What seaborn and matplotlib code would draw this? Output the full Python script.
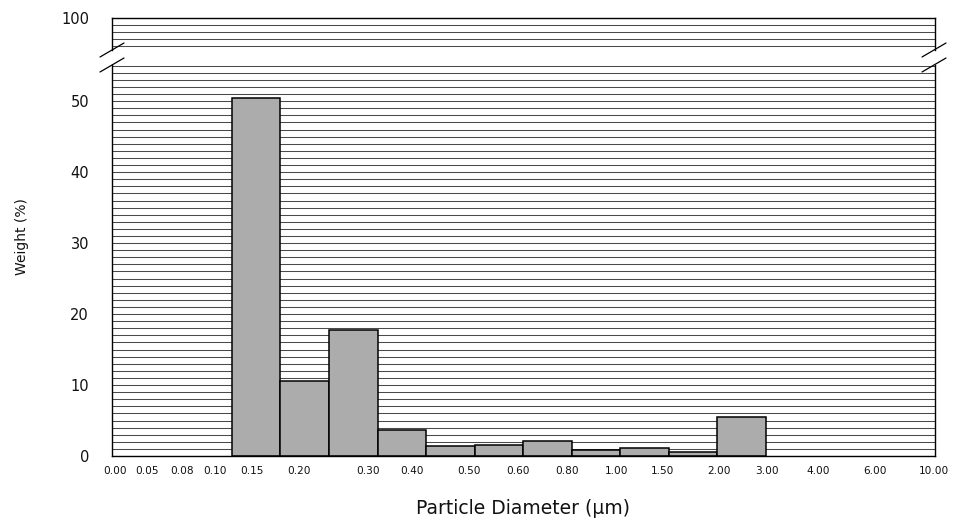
import matplotlib
matplotlib.use("Agg")
import matplotlib.pyplot as plt
from matplotlib.lines import Line2D
from matplotlib.ticker import MultipleLocator
import seaborn as sns
import pandas as pd

# size bins (lower edge - upper edge) and weight % per bin
bins = ["0.10-0.15", "0.15-0.20", "0.20-0.30", "0.30-0.40", "0.40-0.50", "0.50-0.60",
        "0.60-0.80", "0.80-1.00", "1.00-1.50", "1.50-2.00", "2.00-3.00"]
weight = [50.5, 10.6, 17.8, 3.6, 1.4, 1.6, 2.1, 0.8, 1.1, 0.5, 5.5]

# x tick labels (bin edges) as printed on the chart
edge_labels = ["0.00", "0.05", "0.08", "0.10", "0.15", "0.20", "0.30", "0.40", "0.50",
               "0.60", "0.80", "1.00", "1.50", "2.00", "3.00", "4.00", "6.00", "10.00"]
edge_pos = [-2.91, -2.25, -1.53, -0.85, -0.09, 0.88, 2.30, 3.21, 4.38,
            5.39, 6.40, 7.43, 8.36, 9.53, 10.52, 11.57, 12.74, 13.96]

df = pd.DataFrame({"bin": bins, "weight": weight})

sns.set_style("white")
plt.rcParams["font.family"] = ["DejaVu Sans"]

fig = plt.figure(figsize=(9.59, 5.22), dpi=100)
W, H = 959, 522
left, right = 112 / W, 935 / W
ax = fig.add_axes([left, 1 - 456 / H, right - left, (456 - 65) / H])
ax_top = fig.add_axes([left, 1 - 50 / H, right - left, 32 / H])

grid_kw = dict(color="#4a4a4a", linewidth=0.75)
for a in (ax, ax_top):
    a.yaxis.set_minor_locator(MultipleLocator(1))
    a.grid(axis="y", which="both", **grid_kw)
    a.set_axisbelow(True)
    a.set_xlim(-2.97, 13.98)
    for s in a.spines.values():
        s.set_color("black")
        s.set_linewidth(1.0)
    a.tick_params(axis="y", which="major", direction="out", length=6.5, width=0.9,
                  labelsize=10.5, colors="#111111", pad=10)
    a.tick_params(axis="y", which="minor", length=0)

sns.barplot(data=df, x="bin", y="weight", ax=ax, color="#acacac", width=1.0,
            edgecolor="black", linewidth=1.1, saturation=1)

ax.set_ylim(0, 55.1)
ax.set_yticks([0, 10, 20, 30, 40, 50])
ax.set_xlim(-2.97, 13.98)
ax.set_xticks(edge_pos)
ax.set_xticklabels(edge_labels, fontsize=7.6, color="#111111")
ax.tick_params(axis="x", length=0, pad=7)
ax.set_xlabel("")
ax.set_ylabel("")
ax.spines["top"].set_visible(False)

ax_top.set_ylim(95.5, 100)
ax_top.set_yticks([100])
ax_top.set_xticks([])
ax_top.spines["bottom"].set_visible(False)

# break marks on both sides
for x0 in (100 / W, 922 / W):
    for y0 in (57, 72):
        fig.add_artist(Line2D([x0, x0 + 24 / W], [1 - y0 / H, 1 - (y0 - 14) / H],
                              color="black", linewidth=0.9))

fig.text(22 / W, 1 - 237 / H, "Weight (%)", rotation=90, ha="center", va="center",
         fontsize=10, color="#111111")
fig.text(523 / W, 1 - 508 / H, "Particle Diameter (\u00b5m)", ha="center", va="center",
         fontsize=13.5, color="#111111")

fig.savefig("out.png", dpi=100)
